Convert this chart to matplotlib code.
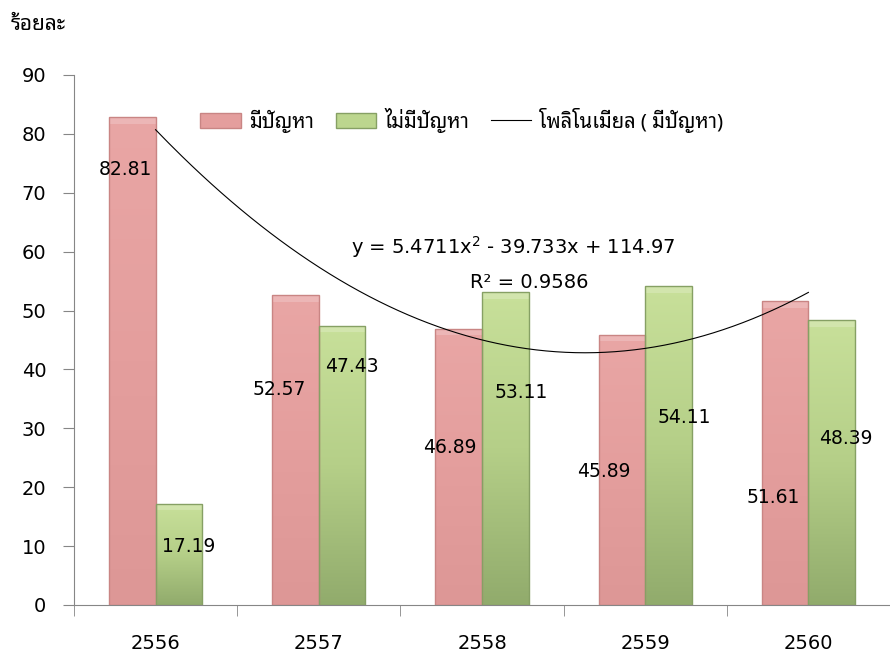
import numpy as np
import matplotlib
matplotlib.use("Agg")
import matplotlib.pyplot as plt
from matplotlib.colors import LinearSegmentedColormap
from matplotlib.patches import Patch, Rectangle
from matplotlib.lines import Line2D

plt.rcParams['font.family'] = ['DejaVu Sans']
thai_fonts = ['Noto Sans Thai Looped', 'Sarabun', 'Noto Sans Thai', 'DejaVu Sans']

years = ['2556', '2557', '2558', '2559', '2560']
has_problem = [82.81, 52.57, 46.89, 45.89, 51.61]
no_problem = [17.19, 47.43, 53.11, 54.11, 48.39]
# where the value labels sit (height, sideways shift from the bar centre)
label_y_problem = [74.0, 36.6, 26.8, 22.6, 18.2]
label_y_none = [10.0, 40.5, 36.0, 31.8, 28.2]
label_dx_problem = [-0.045, -0.10, -0.055, -0.11, -0.073]
label_dx_none = [0.063, 0.06, 0.095, 0.095, 0.088]

# quadratic trend of "มีปัญหา", x = 1..5
trend_a, trend_b, trend_c = 5.4711, -39.733, 114.97
trend_r2 = 0.9586

fig = plt.figure(figsize=(8.9, 6.55), dpi=100)
ax = fig.add_axes([74 / 890, 50 / 655, 816 / 890, 530 / 655])

x = np.arange(len(years))
w = 0.285

pink_cmap = LinearSegmentedColormap.from_list('pink', ['#E9A6A5', '#E49E9D', '#DD9796'])
green_cmap = LinearSegmentedColormap.from_list('green', ['#C8E09A', '#B5CF88', '#91AB6C'])


def gradient_bars(xs, heights, cmap, edge):
    bars = ax.bar(xs, heights, w, color='none', edgecolor=edge, linewidth=1.0, zorder=2)
    grad = np.linspace(0, 1, 256).reshape(-1, 1)
    for b in bars:
        x0, y0 = b.get_x(), b.get_y()
        bw, bh = b.get_width(), b.get_height()
        im = ax.imshow(grad, cmap=cmap, aspect='auto', zorder=1,
                       extent=[x0, x0 + bw, y0, y0 + bh], origin='upper')
        im.set_clip_path(b)
        # soft bevel along the top edge
        ax.add_patch(Rectangle((x0, y0 + bh - 1.1), bw, 1.1, facecolor='white',
                               alpha=0.2, edgecolor='none', zorder=1.5))
    return bars


gradient_bars(x - w / 2, has_problem, pink_cmap, '#C98584')
gradient_bars(x + w / 2, no_problem, green_cmap, '#86A064')

# trendline
xt = np.linspace(0, 4, 200)
yt = trend_a * (xt + 1) ** 2 + trend_b * (xt + 1) + trend_c
ax.plot(xt, yt, color='black', lw=0.8, zorder=3)

for i in range(len(years)):
    ax.text(x[i] - w / 2 + label_dx_problem[i], label_y_problem[i], f'{has_problem[i]:.2f}',
            ha='center', va='center', fontsize=13.5, zorder=4)
    ax.text(x[i] + w / 2 + label_dx_none[i], label_y_none[i], f'{no_problem[i]:.2f}',
            ha='center', va='center', fontsize=13.5, zorder=4)

ax.text(2.19, 60.7, f'y = {trend_a}x$^2$ - {abs(trend_b)}x + {trend_c}',
        ha='center', va='center', fontsize=14)
ax.text(2.29, 54.8, f'R² = {trend_r2}', ha='center', va='center', fontsize=14)

ax.set_xlim(-0.5, 4.445)
ax.set_ylim(0, 90)
ax.set_yticks(range(0, 91, 10))
ax.set_xticks(x)
ax.set_xticklabels(years)
ax.set_xticks(np.arange(-0.5, 5, 1), minor=True)
ax.tick_params(axis='x', which='major', length=0, pad=21, labelsize=14)
ax.tick_params(axis='x', which='minor', length=8, direction='out', color='#868686')
ax.tick_params(axis='y', length=8, direction='out', color='#868686', pad=12, labelsize=14)
for s in ['top', 'right']:
    ax.spines[s].set_visible(False)
for s in ['left', 'bottom']:
    ax.spines[s].set_color('#868686')

handles = [Patch(facecolor='#E49E9D', edgecolor='#C98584'),
           Patch(facecolor='#BCD68E', edgecolor='#86A064'),
           Line2D([0], [0], color='black', lw=0.8)]
labels = ['มีปัญหา', 'ไม่มีปัญหา', 'โพลิโนเมียล ( มีปัญหา)']
ax.legend(handles, labels, loc='center', bbox_to_anchor=(462 / 890, 1 - 120 / 655),
          bbox_transform=fig.transFigure, ncol=3, frameon=False,
          prop={'family': thai_fonts, 'size': 14.5}, handlelength=2.0,
          handletextpad=0.4, columnspacing=1.1)

fig.text(11 / 890, 1 - 25 / 655, 'ร้อยละ', fontsize=15, fontweight='bold',
         family=thai_fonts, va='center', ha='left')

fig.savefig('out.png', dpi=100)
